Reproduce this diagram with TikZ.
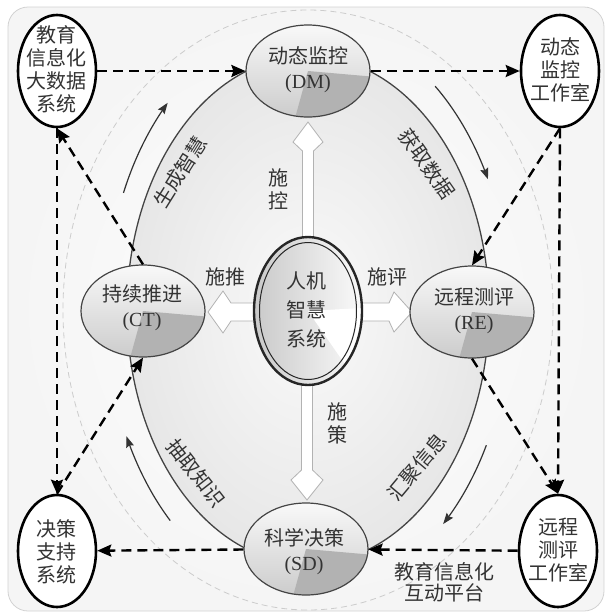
\documentclass[tikz,border=0pt]{standalone}
\usepackage{fontspec}
\setmainfont{Liberation Serif}
\newfontfamily\cjk{Noto Sans CJK SC}
\usetikzlibrary{shapes.geometric,arrows.meta}
\definecolor{txt}{HTML}{333333}
\definecolor{edgegray}{HTML}{444444}
\tikzset{
 cornernode/.style={ellipse, draw=black, line width=2.6pt, fill=white, minimum width=78pt, minimum height=112pt, inner sep=0pt},
 midnode/.style={ellipse, draw=edgegray, line width=1.2pt, top color=gray!5, bottom color=gray!40, minimum width=124pt, minimum height=92pt, inner sep=0pt,
   path picture={\fill[gray!60] (path picture bounding box.center) -- +(80,7) -- +(80,80) -- +(-22,80) -- cycle;}},
 hmnode/.style={ellipse, draw=black!85, line width=2.4pt, left color=gray!42, right color=gray!4, minimum width=108pt, minimum height=148pt, inner sep=0pt,
   path picture={\fill[white] (path picture bounding box.center) -- +(90,-5) -- +(90,115) -- +(80,115) -- cycle;}},
 cjktext/.style={text=txt, align=center, font=\cjk\fontsize{20}{25}\selectfont, inner sep=0pt},
 cornertext/.style={text=txt, align=center, font=\cjk\fontsize{20}{23}\selectfont, inner sep=0pt},
 hmtext/.style={text=txt, align=center, font=\cjk\fontsize{20}{29}\selectfont, inner sep=0pt},
 dasharrow/.style={draw=black, line width=2.4pt, dash pattern=on 10pt off 6pt, -{Stealth[length=14pt,width=12pt,inset=2pt]}},
 curvearrow/.style={draw=txt, line width=1.2pt, -{Stealth[length=11pt,width=8pt,inset=1.5pt]}},
 blockarrow/.style={draw=gray!60, fill=white, line width=0.8pt, line join=miter},
}
\begin{document}
\begin{tikzpicture}[x=1pt,y=-1pt]
\useasboundingbox (0,0) rectangle (608,614);
% background panel
\path[draw=gray!35, line width=0.8pt, inner color=white, outer color=gray!8, rounded corners=20pt] (8,7) rectangle (604,611);
\begin{scope}
\clip[rounded corners=20pt] (8,7) rectangle (604,611);
\draw[gray!40, line width=0.8pt, dash pattern=on 6pt off 4pt] (308,310) ellipse [x radius=245, y radius=300];
\end{scope}
% big ellipse
\path[draw=edgegray, line width=1.3pt, inner color=gray!4, outer color=gray!19] (308,310) ellipse [x radius=181, y radius=254];
% block arrows
\path[blockarrow] (308,122) -- (323,142) -- (313.5,151) -- (313.5,250) -- (302.5,250) -- (302.5,151) -- (293,142) -- cycle;
\path[blockarrow] (307,500) -- (323,480) -- (312.5,470) -- (312.5,370) -- (301.5,370) -- (301.5,470) -- (291,480) -- cycle;
\path[blockarrow] (208,312) -- (223,291) -- (231,303) -- (270,303) -- (270,321) -- (231,321) -- (223,333) -- cycle;
\path[blockarrow] (412,312) -- (394,292) -- (389,303) -- (345,303) -- (345,321) -- (389,321) -- (394,332) -- cycle;
% centre node
\node[hmnode] (HM) at (308,311) {};
\draw[black!85, line width=1pt] (HM.center) ellipse [x radius=48.5, y radius=68.5];
\node[hmtext] (HMt) at (306,310) {人机\\智慧\\系统};
% main nodes
\node[midnode] (DM) at (308,71) {};
\node[midnode] (CT) at (143,311) {};
\node[midnode] (RE) at (472,312) {};
\node[midnode] (SD) at (306,549) {};
\node[cjktext] (DMt) at (308,70) {动态监控\\{\rmfamily (DM)}};
\node[cjktext] (CTt) at (142,308) {持续推进\\{\rmfamily (CT)}};
\node[cjktext] (REt) at (474,311) {远程测评\\{\rmfamily (RE)}};
\node[cjktext] (SDt) at (304,552) {科学决策\\{\rmfamily (SD)}};
% corner nodes
\node[cornernode] (TL) at (57,71) {};
\node[cornernode] (TR) at (560,71) {};
\node[cornernode] (BL) at (57,551) {};
\node[cornernode] (BR) at (558,551) {};
\node[cornertext] (TLt) at (57,69) {教育\\信息化\\大数据\\系统};
\node[cornertext] (TRt) at (560,70) {动态\\监控\\工作室};
\node[cornertext] (BLt) at (57,552) {决策\\支持\\系统};
\node[cornertext] (BRt) at (558,550) {远程\\测评\\工作室};
% labels of block arrows
\node[cornertext] (skong) at (278,189) {施\\控};
\node[cornertext] (sce) at (337,423) {施\\策};
\node[cjktext] (stui) at (225,277) {施推};
\node[cjktext] (sping) at (387,277) {施评};
\node[cornertext, font=\cjk\fontsize{20}{21}\selectfont] (plat) at (444,582) {教育信息化\\互动平台};
% curved arrows
\draw[curvearrow] plot[domain=204:226, samples=25, smooth] ({308+202*cos(\x)},{310+288*sin(\x)});
\draw[curvearrow] plot[domain=309:333, samples=25, smooth] ({308+202*cos(\x)},{310+288*sin(\x)});
\draw[curvearrow] plot[domain=28:48, samples=25, smooth] ({308+202*cos(\x)},{310+288*sin(\x)});
\draw[curvearrow] plot[domain=133:154, samples=25, smooth] ({308+202*cos(\x)},{310+288*sin(\x)});
\node[cjktext, rotate=58] (lzh) at (180,172) {生成智慧};
\node[cjktext, rotate=-55] (lsj) at (427,164) {获取数据};
\node[cjktext, rotate=50] (lxx) at (417,467) {汇聚信息};
\node[cjktext, rotate=-52] (lzs) at (196,473) {抽取知识};
% dashed connectors
\draw[dasharrow] (TL) -- (DM);
\draw[dasharrow] (DM) -- (TR);
\draw[dasharrow] (TR.south) -- (RE.north);
\draw[dasharrow] (TR.south) -- (BR.north);
\draw[dasharrow] (RE.south) -- (BR.north);
\draw[dasharrow] (BR) -- (SD);
\draw[dasharrow] (SD) -- (BL);
\draw[dasharrow] (BL.north) -- (CT.south);
\draw[dasharrow] (TL.south) -- (BL.north);
\draw[dasharrow] (CT.north) -- (TL.south);
\end{tikzpicture}
\end{document}
